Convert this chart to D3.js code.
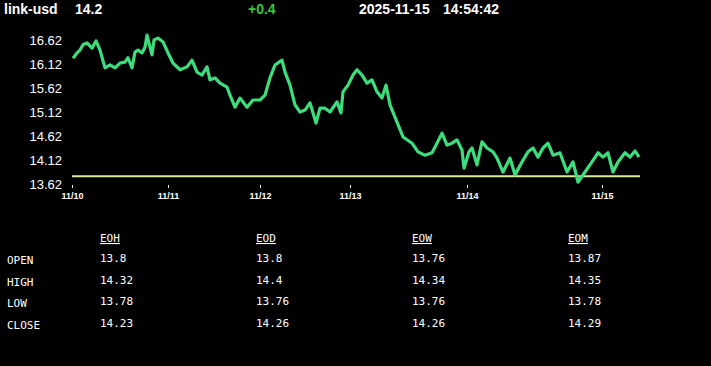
<!DOCTYPE html>
<html>
<head>
<meta charset="utf-8">
<script src="https://cdn.jsdelivr.net/npm/d3@7"></script>
<style>
  body { margin: 0; background: #000; }
  svg { display: block; }
</style>
</head>
<body>
<svg id="chart" width="711" height="366"></svg>
<script>
var symbol = "link-usd";
var lastPrice = "14.2";
var change = "+0.4";
var stamp = ["2025-11-15", "14:54:42"];

// [sample index, price]
var prices = [
  [1,16.24],[5,16.35],[8,16.41],[11,16.52],[15,16.56],[20,16.45],[24,16.60],[28,16.41],
  [33,16.04],[38,16.10],[43,16.04],[48,16.14],[53,16.16],[56,16.25],[60,16.04],[63,16.37],
  [66,16.41],[70,16.35],[73,16.47],[75,16.72],[80,16.31],[82,16.62],[86,16.66],[91,16.58],
  [96,16.35],[101,16.14],[108,16.00],[115,16.06],[120,16.20],[125,15.95],[130,15.89],[135,16.06],
  [138,15.79],[143,15.83],[148,15.72],[155,15.64],[158,15.47],[163,15.22],[168,15.41],[175,15.22],
  [181,15.37],[188,15.37],[193,15.47],[198,15.83],[203,16.10],[210,16.20],[213,15.95],[218,15.68],
  [223,15.27],[228,15.12],[233,15.16],[238,15.31],[244,14.89],[248,15.20],[253,15.20],[258,15.12],
  [265,15.33],[269,15.10],[271,15.54],[276,15.68],[281,15.89],[285,16.00],[290,15.89],[295,15.72],
  [300,15.79],[305,15.54],[310,15.41],[314,15.68],[318,15.27],[325,14.91],[331,14.60],[340,14.47],
  [346,14.29],[353,14.22],[360,14.27],[365,14.47],[370,14.68],[375,14.43],[380,14.47],[385,14.54],
  [390,14.33],[392,13.95],[397,14.29],[400,14.37],[405,14.02],[410,14.50],[415,14.37],[421,14.29],
  [425,14.16],[431,13.87],[438,14.16],[443,13.81],[450,14.08],[456,14.29],[461,14.37],[466,14.18],
  [471,14.37],[476,14.47],[481,14.22],[488,14.27],[495,13.87],[501,14.08],[506,13.66],[513,13.87],
  [520,14.08],[526,14.27],[531,14.18],[536,14.27],[541,13.87],[546,14.08],[553,14.27],[558,14.18],
  [563,14.31],[567,14.18]
];
var levelLine = 13.78;
var dayTicks = [0, 96, 188, 278, 395, 530];
var dayLabels = ["11/10", "11/11", "11/12", "11/13", "11/14", "11/15"];
var yTicks = [13.62, 14.12, 14.62, 15.12, 15.62, 16.12, 16.62];

var tableCols = ["EOH", "EOD", "EOW", "EOM"];
var tableRows = ["OPEN", "HIGH", "LOW", "CLOSE"];
var tableVals = [
  ["13.8", "13.8", "13.76", "13.87"],
  ["14.32", "14.4", "14.34", "14.35"],
  ["13.78", "13.76", "13.76", "13.78"],
  ["14.23", "14.26", "14.26", "14.29"]
];

var svg = d3.select("#chart");

// header
var head = svg.append("g").attr("font-family", "Liberation Sans, Arial, sans-serif")
    .attr("font-size", 14).attr("font-weight", "bold").attr("fill", "#fff");
head.append("text").attr("x", 4).attr("y", 14).text(symbol);
head.append("text").attr("x", 75).attr("y", 14).text(lastPrice);
head.append("text").attr("x", 248).attr("y", 14).attr("fill", "#3dc43d").text(change);
head.append("text").attr("x", 359).attr("y", 14).text(stamp[0]);
head.append("text").attr("x", 443).attr("y", 14).text(stamp[1]);

var x = d3.scaleLinear().domain([0, 568]).range([72, 640]);
var y = d3.scaleLinear().domain([13.62, 16.62]).range([184, 40]);

// y axis labels
var yAxis = svg.append("g").attr("transform", "translate(62,0)")
    .call(d3.axisLeft(y).tickValues(yTicks).tickSize(0).tickPadding(0).tickFormat(d3.format(".2f")));
yAxis.select(".domain").remove();
yAxis.selectAll("text").attr("fill", "#fff").attr("font-size", 13)
    .attr("font-family", "Liberation Sans, Arial, sans-serif");

// x axis
var xAxis = svg.append("g").attr("transform", "translate(0,185)")
    .call(d3.axisBottom(x).tickValues(dayTicks).tickSize(3).tickPadding(5)
      .tickFormat(function (d, i) { return dayLabels[i]; }));
xAxis.select(".domain").remove();
xAxis.selectAll("line").attr("stroke", "#fff");
xAxis.selectAll("text").attr("fill", "#fff").attr("font-size", 9).attr("font-weight", "bold")
    .attr("font-family", "Liberation Sans, Arial, sans-serif");

// level line
svg.append("line")
    .attr("x1", x(0)).attr("x2", x(568))
    .attr("y1", y(levelLine)).attr("y2", y(levelLine))
    .attr("stroke", "#d8eb9c").attr("stroke-width", 2);

// price line
var line = d3.line().x(function (d) { return x(d[0]); }).y(function (d) { return y(d[1]); });
svg.append("path").datum(prices)
    .attr("d", line)
    .attr("fill", "none")
    .attr("stroke", "#3ddc7c")
    .attr("stroke-width", 3.2)
    .attr("stroke-linejoin", "round");

// table
var tbl = svg.append("g").attr("font-family", "DejaVu Sans Mono, Liberation Mono, monospace")
    .attr("font-size", 11).attr("fill", "#fff");
var colX = d3.scalePoint().domain(tableCols).range([100, 568]);
var rowY = d3.scalePoint().domain(tableRows).range([262, 327]);

tbl.selectAll(".colhead").data(tableCols).enter().append("text")
    .attr("x", function (d) { return colX(d); }).attr("y", 242)
    .attr("text-decoration", "underline")
    .text(function (d) { return d; });

tbl.selectAll(".rowhead").data(tableRows).enter().append("text")
    .attr("x", 7).attr("y", function (d) { return rowY(d) + 2; })
    .text(function (d) { return d; });

tableRows.forEach(function (r, ri) {
  tableCols.forEach(function (c, ci) {
    tbl.append("text").attr("x", colX(c)).attr("y", rowY(r)).text(tableVals[ri][ci]);
  });
});
</script>
</body>
</html>
